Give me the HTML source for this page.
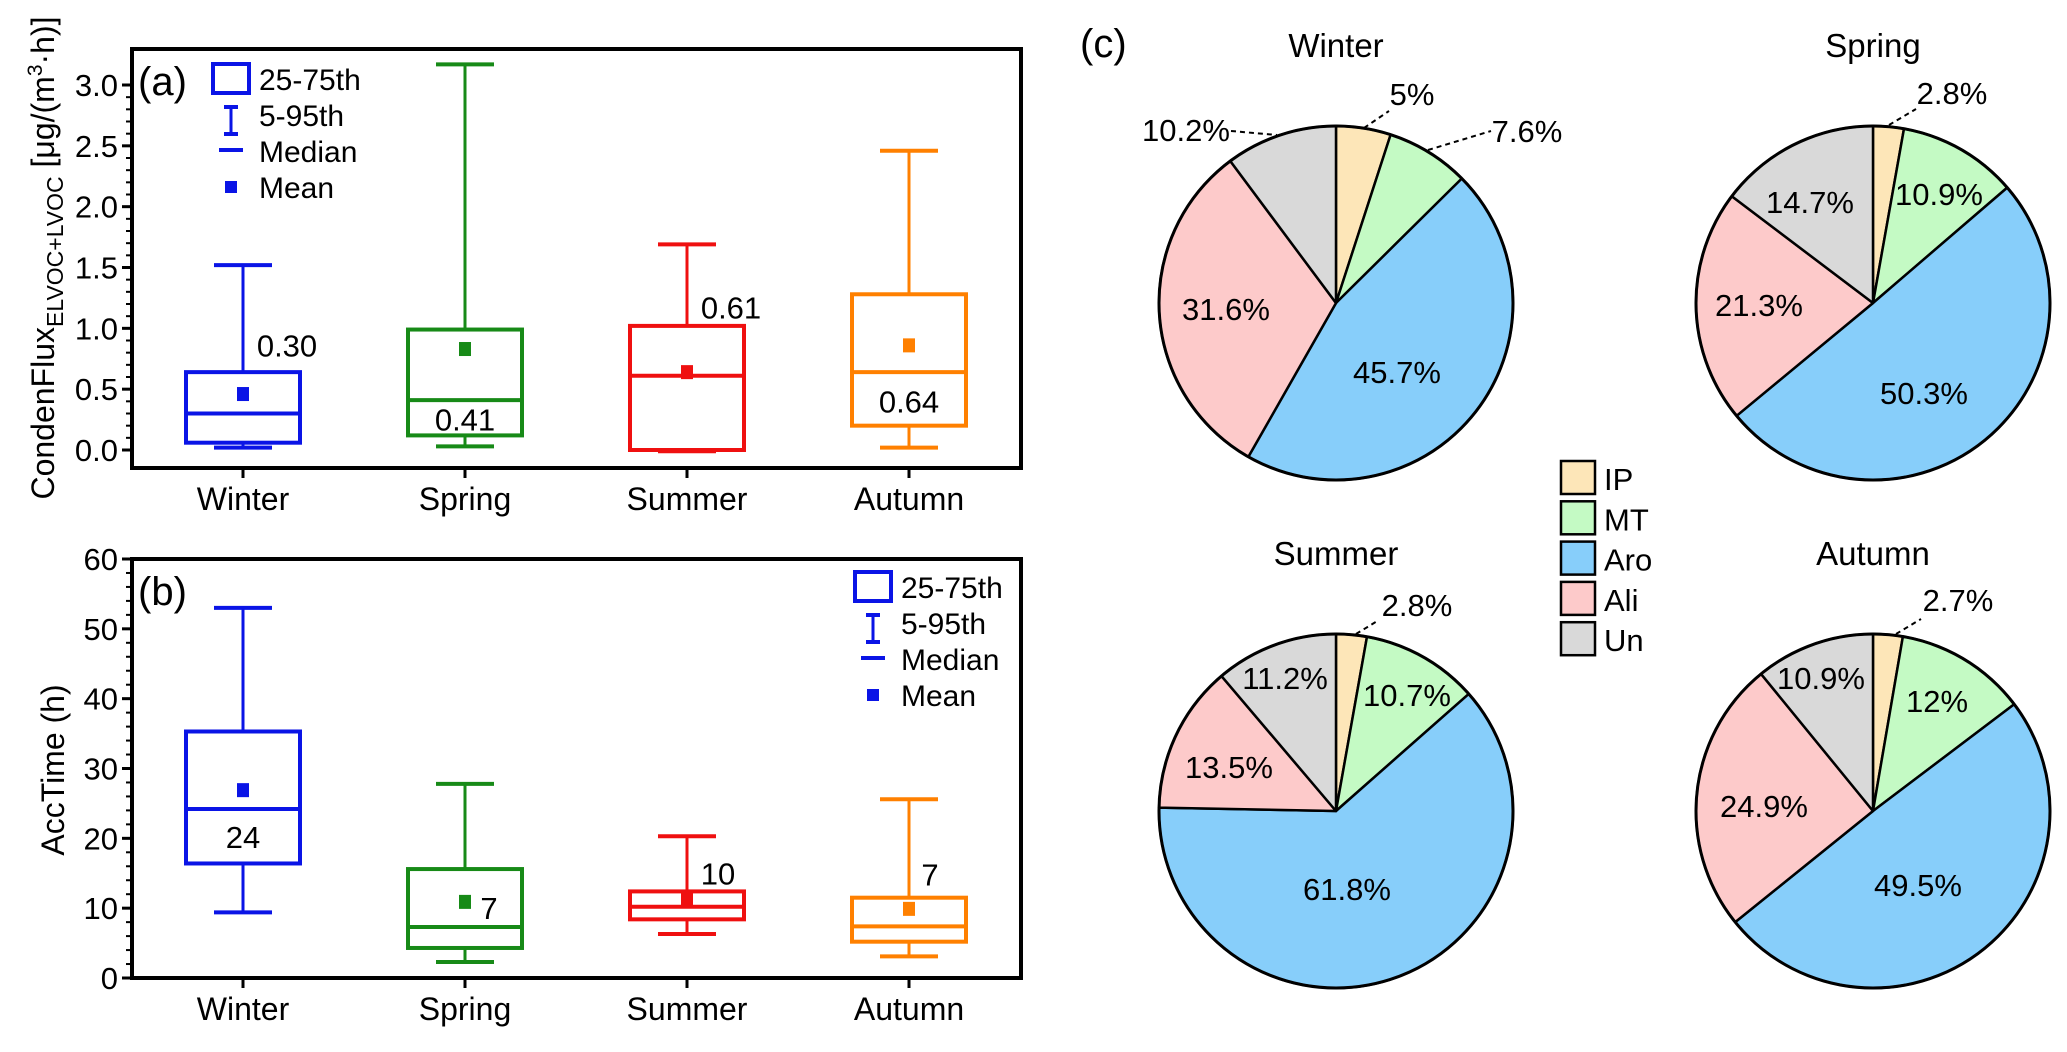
<!DOCTYPE html>
<html><head><meta charset="utf-8"><style>
html,body{margin:0;padding:0;background:#fff;}
svg{display:block;font-family:"Liberation Sans",sans-serif;}
</style></head>
<body>
<svg id="fig" width="2067" height="1052" viewBox="0 0 2067 1052" xmlns="http://www.w3.org/2000/svg"></svg>
<script>
const seasons = ["Winter","Spring","Summer","Autumn"];
const seasonColors = ["#0a14e6","#178a17","#ef1010","#ff8000"];
// panel a: [p5, q1, median, q3, p95]
const fluxP5 = [0.02,0.03,-0.01,0.02];
const fluxQ1 = [0.06,0.12,0.0,0.20];
const fluxMed = [0.30,0.41,0.61,0.64];
const fluxQ3 = [0.64,0.99,1.02,1.28];
const fluxP95 = [1.52,3.17,1.69,2.46];
const fluxMean = [0.46,0.83,0.64,0.86];
const fluxLabels = ["0.30","0.41","0.61","0.64"];
const fluxLabelVal = [0.86,0.25,1.17,0.40];
const fluxTicks = [0.0,0.5,1.0,1.5,2.0,2.5,3.0];
const fluxTickLabels = ["0.0","0.5","1.0","1.5","2.0","2.5","3.0"];
// panel b
const accP5 = [9.4,2.3,6.3,3.1];
const accQ1 = [16.4,4.3,8.4,5.2];
const accMed = [24.2,7.3,10.2,7.4];
const accQ3 = [35.3,15.6,12.4,11.5];
const accP95 = [53.0,27.8,20.3,25.6];
const accMean = [26.9,10.9,11.4,9.9];
const accLabels = ["24","7","10","7"];
const accLabelVal = [20.2,10.0,15.0,14.8];
const accTicks = [0,10,20,30,40,50,60];
const accTickLabels = ["0","10","20","30","40","50","60"];
// panel c
const comps = ["IP","MT","Aro","Ali","Un"];
const compColors = ["#fde6b8","#c4fac4","#87cefa","#fdcaca","#d9d9d9"];
const pieWinter = [5,7.6,45.7,31.6,10.2];
const pieSpring = [2.8,10.9,50.3,21.3,14.7];
const pieSummer = [2.8,10.7,61.8,13.5,11.2];
const pieAutumn = [2.7,12,49.5,24.9,10.9];
const pieLabelsWinter = ["5%","7.6%","45.7%","31.6%","10.2%"];
const pieLabelsSpring = ["2.8%","10.9%","50.3%","21.3%","14.7%"];
const pieLabelsSummer = ["2.8%","10.7%","61.8%","13.5%","11.2%"];
const pieLabelsAutumn = ["2.7%","12%","49.5%","24.9%","10.9%"];

const NS="http://www.w3.org/2000/svg";
const svg=document.getElementById('fig');
function el(tag,attrs,parent){const e=document.createElementNS(NS,tag);for(const k in attrs)e.setAttribute(k,attrs[k]);(parent||svg).appendChild(e);return e;}
function txt(s,attrs,parent){const e=el('text',attrs,parent);e.textContent=s;return e;}

const catX=[243,465,687,909];
function drawBoxPanel(name,y0px,y1px,vmin,vmax,P5,Q1,Med,Q3,P95,Mean,labs,labV,ticks,tickLabs,minorStep){
  const g=el('g',{});
  
  
  const yS=v=>y0px-(v-vmin)/(vmax-vmin)*(y0px-y1px);
  const L=132,R=1021,T=y1px-(name==='panel-a'?36:0),B=name==='panel-a'?468:978;
  for(let i=0;i<seasons.length;i++){
    const c=seasonColors[i],x=catX[i];
    const bg=el('g',{},g);
    
    
    el('line',{x1:x,x2:x,y1:yS(P95[i]),y2:yS(Q3[i]),stroke:c,'stroke-width':3},bg);
    el('line',{x1:x,x2:x,y1:yS(Q1[i]),y2:yS(P5[i]),stroke:c,'stroke-width':3},bg);
    el('line',{x1:x-29,x2:x+29,y1:yS(P95[i]),y2:yS(P95[i]),stroke:c,'stroke-width':4},bg);
    el('line',{x1:x-29,x2:x+29,y1:yS(P5[i]),y2:yS(P5[i]),stroke:c,'stroke-width':4},bg);
    el('rect',{x:x-57,y:yS(Q3[i]),width:114,height:yS(Q1[i])-yS(Q3[i]),fill:'none',stroke:c,'stroke-width':4},bg);
    el('line',{x1:x-57,x2:x+57,y1:yS(Med[i]),y2:yS(Med[i]),stroke:c,'stroke-width':4},bg);
    el('rect',{x:x-6,y:yS(Mean[i])-7,width:12,height:14,fill:c},bg);
    const lx = (name==='panel-a') ? [x+44,x,x+44,x][i] : [x,x+24,x+31,x+21][i];
    const t=txt(labs[i],{x:lx,y:yS(labV[i])+11,'font-size':31,'text-anchor':'middle',fill:'#000'},bg);
    
    
  }
  el('rect',{x:L,y:T,width:R-L,height:B-T,fill:'none',stroke:'#000','stroke-width':4},g);
  for(let v=vmin;v<=vmax+1e-9;v+=minorStep){el('line',{x1:L-6,x2:L,y1:yS(v),y2:yS(v),stroke:'#000','stroke-width':2},g);}
  for(let i=0;i<ticks.length;i++){
    el('line',{x1:L-10,x2:L,y1:yS(ticks[i]),y2:yS(ticks[i]),stroke:'#000','stroke-width':3},g);
    txt(tickLabs[i],{x:L-14,y:yS(ticks[i])+11,'font-size':31,'text-anchor':'end'},g);
  }
  for(let i=0;i<seasons.length;i++){
    el('line',{x1:catX[i],x2:catX[i],y1:B,y2:B+10,stroke:'#000','stroke-width':3},g);
    const t=txt(seasons[i],{x:catX[i],y:B+42,'font-size':32,'text-anchor':'middle'},g);
    
    
  }
  return {g,yS};
}
drawBoxPanel('panel-a',450,85,0,3,fluxP5,fluxQ1,fluxMed,fluxQ3,fluxP95,fluxMean,fluxLabels,fluxLabelVal,fluxTicks,fluxTickLabels,0.1);
drawBoxPanel('panel-b',978,559,0,60,accP5,accQ1,accMed,accQ3,accP95,accMean,accLabels,accLabelVal,accTicks,accTickLabels,2);

const la=txt('(a)',{x:138,y:95,'font-size':40});


const lb=txt('(b)',{x:138,y:605,'font-size':40});


const lc=txt('(c)',{x:1080,y:57,'font-size':40});



function boxLegend(name,x,y){
  const g=el('g',{});
  
  
  const c='#0a14e6';
  el('rect',{x:x,y:y,width:36,height:29,fill:'none',stroke:c,'stroke-width':4},g);
  el('line',{x1:x+18,x2:x+18,y1:y+43,y2:y+70,stroke:c,'stroke-width':3},g);
  el('line',{x1:x+11,x2:x+25,y1:y+43,y2:y+43,stroke:c,'stroke-width':4},g);
  el('line',{x1:x+11,x2:x+25,y1:y+70,y2:y+70,stroke:c,'stroke-width':4},g);
  el('line',{x1:x+6,x2:x+30,y1:y+86,y2:y+86,stroke:c,'stroke-width':4},g);
  el('rect',{x:x+12,y:y+117,width:12,height:12,fill:c},g);
  const labels=['25-75th','5-95th','Median','Mean'];
  for(let i=0;i<4;i++) txt(labels[i],{x:x+46,y:y+26+i*36,'font-size':30},g);
}
boxLegend('legend-a',213,64);
boxLegend('legend-b',855,572);

function drawPie(name,title,cx,cy,r,vals,labs,labPos,leaders){
  const g=el('g',{});
  
  
  const total=vals.reduce((a,b)=>a+b,0);
  let a0=-Math.PI/2;
  for(let i=0;i<vals.length;i++){
    const a1=a0+vals[i]/total*2*Math.PI;
    const x0=cx+r*Math.cos(a0),y0=cy+r*Math.sin(a0),x1=cx+r*Math.cos(a1),y1=cy+r*Math.sin(a1);
    const large=(a1-a0)>Math.PI?1:0;
    const p=el('path',{d:`M${cx},${cy} L${x0},${y0} A${r},${r} 0 ${large} 1 ${x1},${y1} Z`,fill:compColors[i],stroke:'#000','stroke-width':2.5,'stroke-linejoin':'round'},g);
    
    
    a0=a1;
  }
  el('circle',{cx:cx,cy:cy,r:r,fill:'none',stroke:'#000','stroke-width':3},g);
  txt(title,{x:cx,y:cy-246,'font-size':33,'text-anchor':'middle'},g);
  for(let i=0;i<labs.length;i++){
    const t=txt(labs[i],{x:cx+labPos[i][0],y:cy+labPos[i][1]+11,'font-size':31,'text-anchor':'middle'},g);
    
    
  }
  for(const l of leaders) el('line',{x1:cx+l[0],y1:cy+l[1],x2:cx+l[2],y2:cy+l[3],stroke:'#000','stroke-width':2,'stroke-dasharray':'5,4'},g);
}
drawPie('pie-winter','Winter',1336,303,177,pieWinter,pieLabelsWinter,
  [[76,-209],[191,-172],[61,69],[-110,6],[-150,-173]],
  [[28,-175,53,-192],[92,-153,155,-172],[-105,-172,-59,-168]]);
drawPie('pie-spring','Spring',1873,303,177,pieSpring,pieLabelsSpring,
  [[79,-210],[66,-109],[51,90],[-114,2],[-63,-101]],
  [[16,-178,43,-194]]);
drawPie('pie-summer','Summer',1336,811,177,pieSummer,pieLabelsSummer,
  [[81,-206],[71,-116],[11,78],[-107,-44],[-51,-133]],
  [[20,-177,43,-191]]);
drawPie('pie-autumn','Autumn',1873,811,177,pieAutumn,pieLabelsAutumn,
  [[85,-211],[64,-110],[45,74],[-109,-5],[-52,-133]],
  [[23,-177,48,-192]]);

const lg=el('g',{});


for(let i=0;i<comps.length;i++){
  const y=461+i*40.3;
  el('rect',{x:1561,y:y,width:34,height:33,fill:compColors[i],stroke:'#000','stroke-width':2.5},lg);
  txt(comps[i],{x:1604,y:y+29,'font-size':31},lg);
}

const ta=el('text',{transform:'translate(54,258) rotate(-90)','font-size':32,'text-anchor':'middle'});


ta.innerHTML='CondenFlux<tspan font-size="23" dy="9">ELVOC+LVOC</tspan><tspan dy="-9"> [μg/(m</tspan><tspan font-size="21" dy="-12">3</tspan><tspan dy="12">·h)]</tspan>';
const tb=el('text',{transform:'translate(64,770) rotate(-90)','font-size':32,'text-anchor':'middle'});


tb.textContent='AccTime (h)';
</script>
</body></html>
